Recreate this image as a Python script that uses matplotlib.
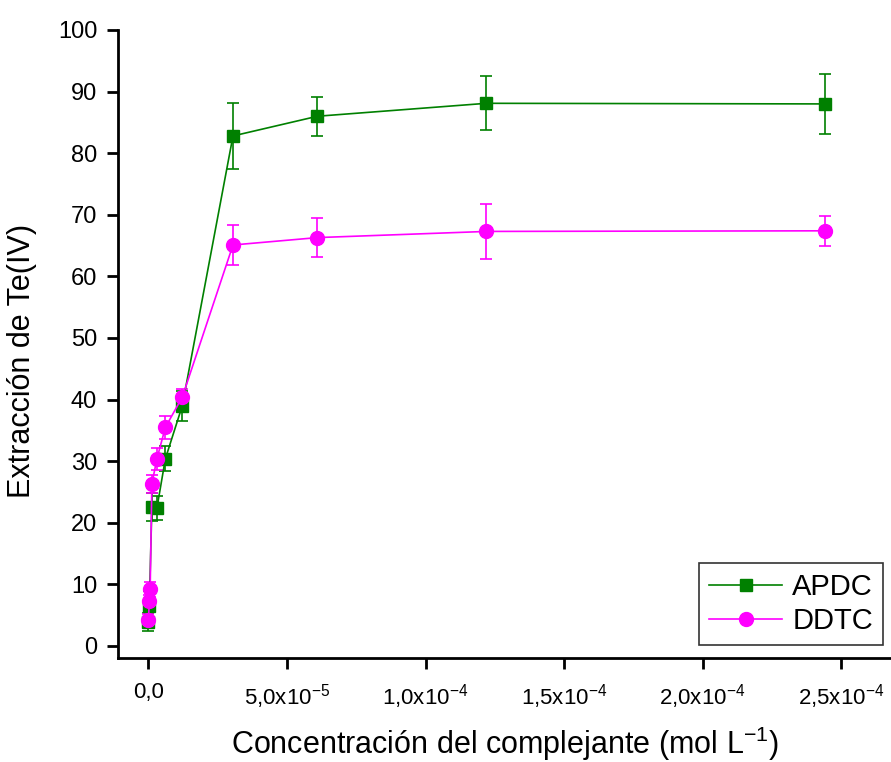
import matplotlib
matplotlib.use("Agg")
import matplotlib.pyplot as plt
from matplotlib.ticker import FixedLocator

plt.rcParams['font.family'] = ['Liberation Sans', 'DejaVu Sans']
plt.rcParams['mathtext.fontset'] = 'custom'
plt.rcParams['mathtext.rm'] = 'Liberation Sans'

# APDC series
apdc_x = [0.0, 3.0e-7, 1.22e-6, 3.05e-6, 6.1e-6, 1.22e-5, 3.05e-5, 6.1e-5, 1.22e-4, 2.44e-4]
apdc_y = [3.9, 6.5, 22.6, 22.4, 30.4, 39.0, 82.8, 86.0, 88.1, 88.0]
apdc_err = [1.5, 2.5, 2.3, 2.0, 2.0, 2.4, 5.4, 3.2, 4.4, 4.9]

# DDTC series
ddtc_x = [0.0, 3.0e-7, 6.1e-7, 1.22e-6, 3.05e-6, 6.1e-6, 1.22e-5, 3.05e-5, 6.1e-5, 1.22e-4, 2.44e-4]
ddtc_y = [4.2, 7.3, 9.2, 26.3, 30.4, 35.5, 40.4, 65.1, 66.3, 67.3, 67.4]
ddtc_err = [1.0, 1.0, 1.2, 1.5, 1.8, 1.9, 1.3, 3.2, 3.1, 4.5, 2.4]

xticks = [0.0, 5.0e-5, 1.0e-4, 1.5e-4, 2.0e-4, 2.5e-4]
xticklabels = ['0,0', r'5,0x10$^{\mathrm{-5}}$', r'1,0x10$^{\mathrm{-4}}$', r'1,5x10$^{\mathrm{-4}}$',
               r'2,0x10$^{\mathrm{-4}}$', r'2,5x10$^{\mathrm{-4}}$']
yticks = list(range(0, 101, 10))

fig = plt.figure(figsize=(8.91, 7.62), dpi=100)
ax = fig.add_axes([118 / 891, 104 / 762, 773 / 891, 628 / 762])

eb1 = ax.errorbar(apdc_x, apdc_y, yerr=apdc_err, color='#008000', marker='s',
                  markersize=9, linewidth=1.2, elinewidth=1.2, capsize=4.3,
                  capthick=1.2, zorder=3)
eb2 = ax.errorbar(ddtc_x, ddtc_y, yerr=ddtc_err, color='#ff00ff', marker='o',
                  markersize=10, linewidth=1.2, elinewidth=1.2, capsize=4.3,
                  capthick=1.2, zorder=3)

ax.set_xlim(-1.1e-5, 2.68e-4)
ax.set_ylim(-1.95, 100)
ax.xaxis.set_major_locator(FixedLocator(xticks))
ax.set_xticklabels(xticklabels)
ax.set_yticks(yticks)

for side in ['top', 'right']:
    ax.spines[side].set_visible(False)
for side in ['left', 'bottom']:
    ax.spines[side].set_linewidth(2)

ax.tick_params(direction='out', length=8, width=2)
ax.tick_params(axis='y', labelsize=17, pad=7)
ax.tick_params(axis='x', labelsize=16, pad=9)

ax.set_xlabel(r'Concentración del complejante (mol L$^{\mathrm{-1}}$)', fontsize=22)
ax.set_ylabel('Extracción de Te(IV)', fontsize=22)
ax.xaxis.set_label_coords(0.5, -0.106)
ax.yaxis.set_label_coords(-0.105, 0.473)

leg = ax.legend([eb1.lines[0], eb2.lines[0]], ['APDC', 'DDTC'],
                loc='lower right', bbox_to_anchor=(0.99, 0.02), fontsize=21,
                fancybox=False, framealpha=1, edgecolor='#333333',
                handlelength=2.5, borderpad=0.35, labelspacing=0.2,
                handletextpad=0.35, borderaxespad=0)
leg.get_frame().set_linewidth(1.2)
leg._legend_box.sep = 4

fig.savefig('out.png', dpi=100)
